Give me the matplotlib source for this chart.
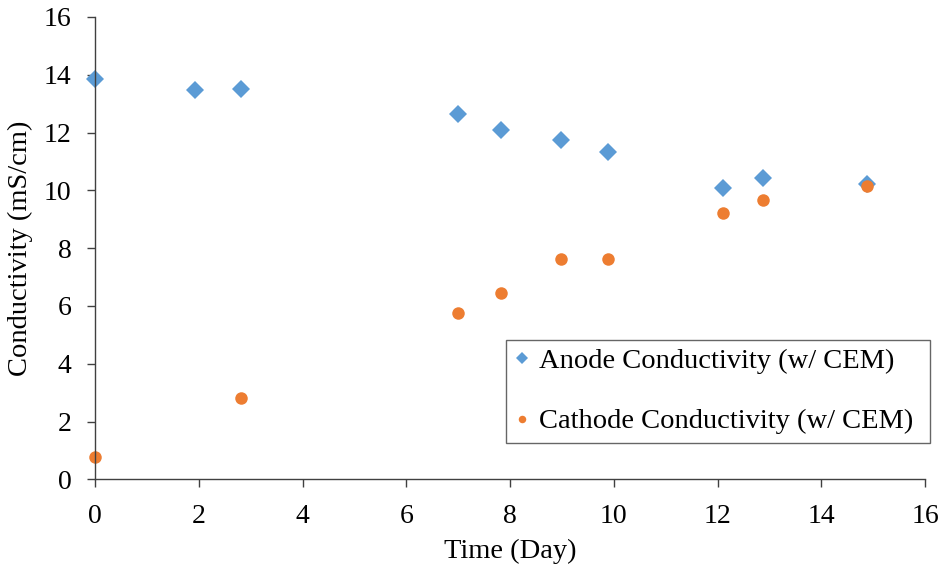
import matplotlib
matplotlib.use("Agg")
import matplotlib.pyplot as plt

anode_days = [0.0, 1.93, 2.81, 6.99, 7.83, 8.99, 9.88, 12.11, 12.88, 14.88]
anode_cond = [13.85, 13.47, 13.52, 12.66, 12.08, 11.75, 11.33, 10.09, 10.42, 10.21]
cathode_days = [0.0, 2.81, 6.99, 7.83, 8.99, 9.88, 12.11, 12.88, 14.88]
cathode_cond = [0.78, 2.82, 5.76, 6.46, 7.62, 7.62, 9.20, 9.66, 10.15]
x_ticks = [0, 2, 4, 6, 8, 10, 12, 14, 16]
y_ticks = [0, 2, 4, 6, 8, 10, 12, 14, 16]

plt.rcParams['font.family'] = ['Liberation Serif', 'DejaVu Serif']

fig = plt.figure(figsize=(9.39, 5.71), dpi=100)
ax = fig.add_axes([95/939, 1 - 479.3/571, 830/939, 462.3/571])

ax.plot(anode_days, anode_cond, linestyle='none', marker='D', markersize=9.5,
        color='#5B9BD5', markeredgewidth=0, label='Anode Conductivity (w/ CEM)', clip_on=False)
ax.plot(cathode_days, cathode_cond, linestyle='none', marker='o', markersize=9,
        color='#ED7D31', markeredgewidth=0, label='Cathode Conductivity (w/ CEM)', clip_on=False)

ax.set_xlim(0, 16)
ax.set_ylim(0, 16)
ax.set_xticks(x_ticks)
ax.set_yticks(y_ticks)
ax.tick_params(axis='both', direction='out', length=6, width=1, colors='#404040',
               labelsize=20, labelcolor='black')
ax.tick_params(axis='y', pad=11)
ax.tick_params(axis='x', pad=12)
for s in ['top', 'right']:
    ax.spines[s].set_visible(False)
for s in ['left', 'bottom']:
    ax.spines[s].set_color('#404040')
    ax.spines[s].set_linewidth(1.0)

ax.set_xlabel('Time (Day)', fontsize=20.5, labelpad=7)
ax.set_ylabel('Conductivity (mS/cm)', fontsize=20.5, labelpad=8)

leg = ax.legend(loc='lower left', bbox_to_anchor=(0.495, 0.0785, 0.511, 0.2225),
                mode='expand', fontsize=20.5, frameon=True, fancybox=False,
                edgecolor='#404040', markerscale=0.6, handlelength=0.5,
                handletextpad=0.35, labelspacing=1.2, borderpad=0.3, borderaxespad=0)
leg.get_frame().set_linewidth(1.0)

fig.savefig('out.png', dpi=100)
